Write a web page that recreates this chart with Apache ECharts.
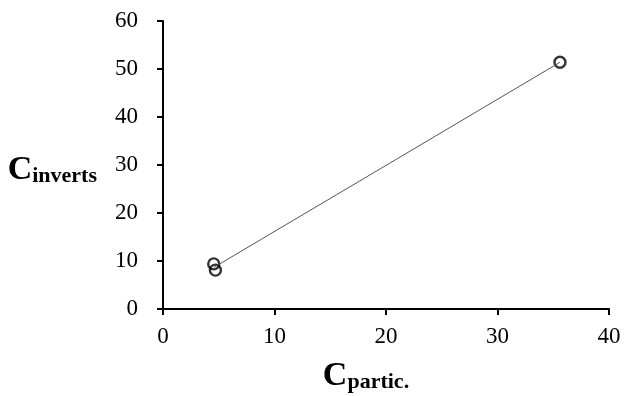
<!DOCTYPE html>
<html>
<head>
<meta charset="utf-8">
<script src="https://cdn.jsdelivr.net/npm/echarts@6/dist/echarts.min.js"></script>
<style>
  html, body { margin: 0; padding: 0; background: #fff; }
  #chart { width: 637px; height: 396px; }
</style>
</head>
<body>
<div id="chart"></div>
<script>
  // values
  var cPartic = [4.55, 4.7, 35.6];
  var cInverts = [9.4, 8.1, 51.4];
  var xTicks = [0, 10, 20, 30, 40];
  var yTicks = [0, 10, 20, 30, 40, 50, 60];

  var points = [];
  for (var i = 0; i < cPartic.length; i++) {
    points.push([cPartic[i], cInverts[i]]);
  }

  // linear trendline (least squares) from min x to max x
  function trend() {
    var n = cPartic.length, mx = 0, my = 0;
    for (var i = 0; i < n; i++) { mx += cPartic[i]; my += cInverts[i]; }
    mx /= n; my /= n;
    var sxy = 0, sxx = 0;
    for (var j = 0; j < n; j++) {
      sxy += (cPartic[j] - mx) * (cInverts[j] - my);
      sxx += (cPartic[j] - mx) * (cPartic[j] - mx);
    }
    var b = sxy / sxx, a = my - b * mx;
    var x0 = Math.min.apply(null, cPartic), x1 = Math.max.apply(null, cPartic);
    return [[x0, a + b * x0], [x1, a + b * x1]];
  }

  var serif = '"Liberation Serif", "DejaVu Serif", serif';
  // big C with a lowered bold subscript
  var nameRich = {
    c: { fontFamily: serif, fontWeight: 'bold', fontSize: 34, lineHeight: 44, verticalAlign: 'bottom', color: '#000' },
    s: { fontFamily: serif, fontWeight: 'bold', fontSize: 22, lineHeight: 25, verticalAlign: 'bottom', color: '#000' }
  };

  var myChart = echarts.init(document.getElementById('chart'));
  var option = {
    animation: false,
    backgroundColor: '#fff',
    grid: { left: 163, right: 28, top: 21, bottom: 87, outerBoundsMode: 'none' },
    xAxis: {
      type: 'value',
      min: 0, max: 40, interval: 10,
      splitLine: { show: false },
      axisLine: { onZero: false, lineStyle: { color: '#000', width: 2 } },
      axisTick: { show: true, length: 6, lineStyle: { color: '#000', width: 2 } },
      axisLabel: {
        color: '#000', fontFamily: serif, fontSize: 23, margin: 16,
        formatter: function (v) { return xTicks.indexOf(v) >= 0 ? String(v) : ''; }
      },
      name: '{c|C}{s|partic.}',
      nameLocation: 'middle',
      nameGap: 40,
      nameTextStyle: { padding: [0, 40, 0, 0], rich: nameRich }
    },
    yAxis: {
      type: 'value',
      min: 0, max: 60, interval: 10,
      splitLine: { show: false },
      axisLine: { lineStyle: { color: '#000', width: 2 } },
      axisTick: { show: true, length: 6, lineStyle: { color: '#000', width: 2 } },
      axisLabel: {
        color: '#000', fontFamily: serif, fontSize: 23, margin: 25,
        formatter: function (v) { return yTicks.indexOf(v) >= 0 ? String(v) : ''; }
      },
      name: '{c|C}{s|inverts}',
      nameLocation: 'middle',
      nameRotate: 0,
      nameGap: 66,
      nameTextStyle: { align: 'right', rich: nameRich }
    },
    series: [
      {
        type: 'line',
        data: trend(),
        symbol: 'none',
        lineStyle: { color: '#555', width: 1 },
        z: 3
      },
      {
        type: 'scatter',
        data: points,
        symbol: 'circle',
        symbolSize: 11,
        itemStyle: { color: 'rgba(0,0,0,0)', borderColor: '#000', borderWidth: 2.4 },
        z: 2
      }
    ]
  };
  myChart.setOption(option);
</script>
</body>
</html>
